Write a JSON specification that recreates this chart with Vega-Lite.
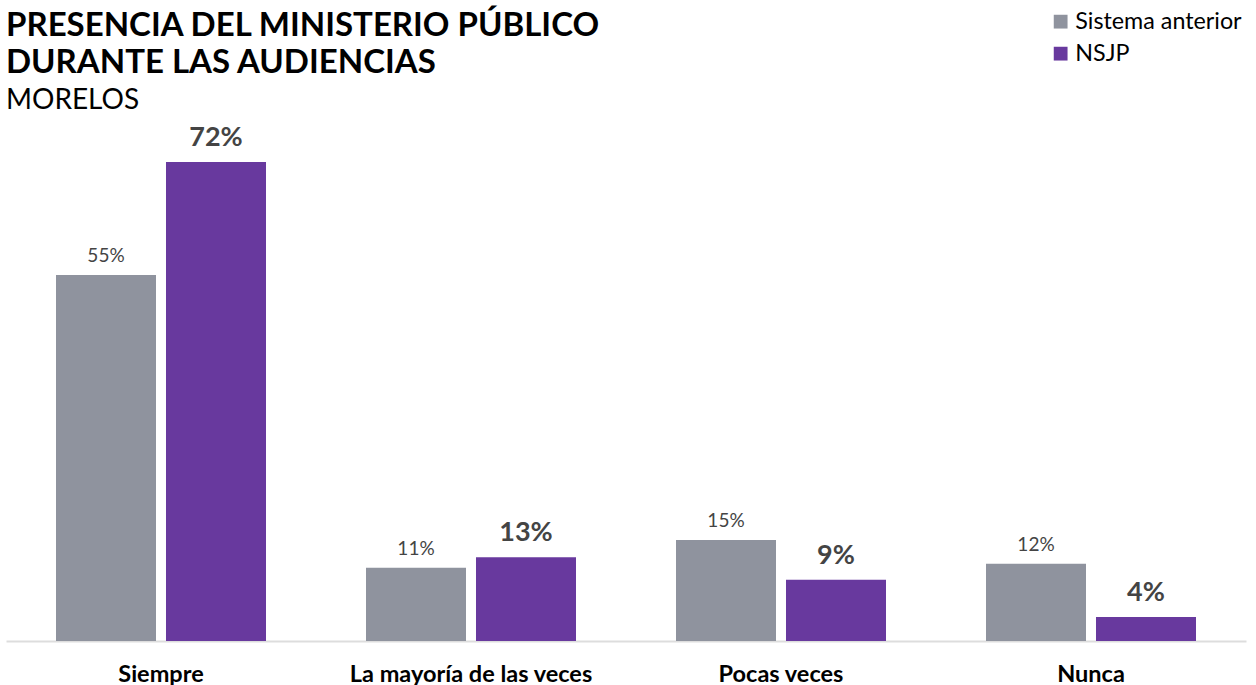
{
  "$schema": "https://vega.github.io/schema/vega-lite/v6.json",
  "width": 1240,
  "height": 516,
  "autosize": {"type": "none"},
  "padding": {"left": 6, "top": 125, "right": 10, "bottom": 44},
  "background": "white",
  "config": {"view": {"stroke": null}, "font": "Lato"},
  "title": {
    "text": ["PRESENCIA DEL MINISTERIO PÚBLICO", "DURANTE LAS AUDIENCIAS"],
    "subtitle": "MORELOS",
    "anchor": "start",
    "frame": "group",
    "font": "Lato",
    "fontSize": 33,
    "fontWeight": "bold",
    "color": "#000000",
    "lineHeight": 37,
    "subtitleFont": "Lato",
    "subtitleFontSize": 28,
    "subtitleFontWeight": "normal",
    "subtitleColor": "#000000",
    "subtitlePadding": 7,
    "offset": -105
  },
  "data": {
    "values": [
      {"categoria": "Siempre", "sistema": "Sistema anterior", "valor": 0.55},
      {"categoria": "Siempre", "sistema": "NSJP", "valor": 0.72},
      {"categoria": "La mayoría de las veces", "sistema": "Sistema anterior", "valor": 0.11},
      {"categoria": "La mayoría de las veces", "sistema": "NSJP", "valor": 0.126},
      {"categoria": "Pocas veces", "sistema": "Sistema anterior", "valor": 0.152},
      {"categoria": "Pocas veces", "sistema": "NSJP", "valor": 0.092},
      {"categoria": "Nunca", "sistema": "Sistema anterior", "valor": 0.116},
      {"categoria": "Nunca", "sistema": "NSJP", "valor": 0.036}
    ]
  },
  "encoding": {
    "x": {
      "field": "categoria",
      "type": "nominal",
      "sort": null,
      "scale": {"paddingInner": 0.3226, "paddingOuter": 0.1613},
      "axis": {
        "title": null,
        "labelAngle": 0,
        "labelFont": "Lato",
        "labelFontSize": 23.5,
        "labelFontWeight": "bold",
        "labelColor": "#000000",
        "labelPadding": 21,
        "labelLimit": 0,
        "ticks": false,
        "domainColor": "#dddddd",
        "domainWidth": 2
      }
    },
    "xOffset": {
      "field": "sistema",
      "type": "nominal",
      "sort": ["Sistema anterior", "NSJP"],
      "scale": {"paddingInner": 0.0909, "paddingOuter": 0}
    },
    "y": {
      "field": "valor",
      "type": "quantitative",
      "scale": {"domain": [0, 0.7756], "nice": false, "zero": true},
      "axis": null
    }
  },
  "layer": [
    {
      "mark": {"type": "bar"},
      "encoding": {
        "color": {
          "field": "sistema",
          "type": "nominal",
          "sort": ["Sistema anterior", "NSJP"],
          "scale": {"domain": ["Sistema anterior", "NSJP"], "range": ["#8f939e", "#68399e"]},
          "legend": {
            "title": null,
            "orient": "none",
            "legendX": 1043,
            "legendY": -115,
            "symbolType": "square",
            "symbolSize": 190,
            "symbolStrokeWidth": 0,
            "labelFont": "Lato",
            "labelFontSize": 23.3,
            "labelColor": "#000000",
            "labelOffset": 3,
            "labelLimit": 0,
            "rowPadding": 8
          }
        }
      }
    },
    {
      "transform": [{"filter": "datum.sistema === 'Sistema anterior'"}],
      "mark": {"type": "text", "baseline": "alphabetic", "dy": -13, "font": "Lato", "fontSize": 19, "letterSpacing": 2.5, "color": "#444444"},
      "encoding": {
        "text": {"field": "valor", "type": "quantitative", "format": ".0%"}
      }
    },
    {
      "transform": [{"filter": "datum.sistema === 'NSJP'"}],
      "mark": {"type": "text", "baseline": "alphabetic", "dy": -16, "font": "Lato", "fontSize": 27, "fontWeight": "bold", "color": "#444444"},
      "encoding": {
        "text": {"field": "valor", "type": "quantitative", "format": ".0%"}
      }
    }
  ]
}
